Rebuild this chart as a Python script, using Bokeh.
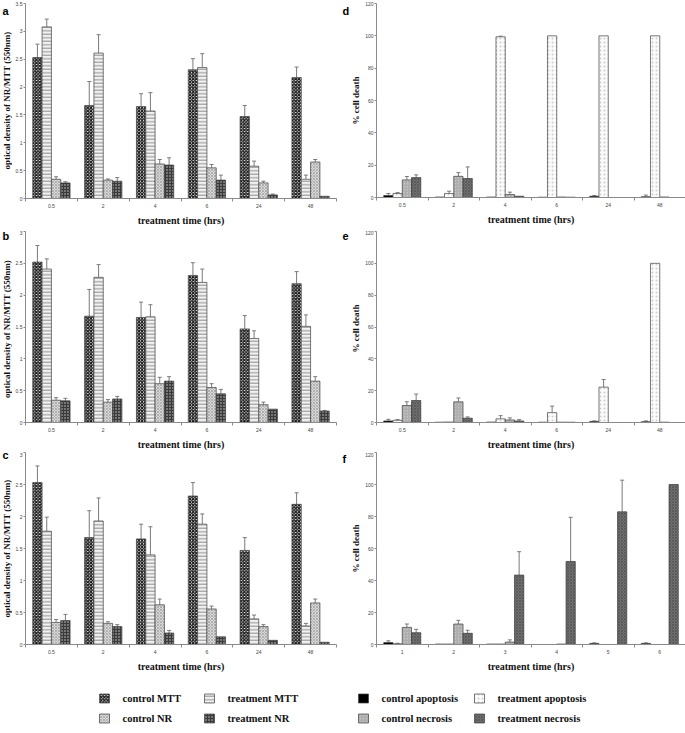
import math
import numpy as np
from bokeh.plotting import figure
from bokeh.models import (Range1d, FixedTicker, ColumnDataSource, Whisker, TeeHead,
                          Label, NumeralTickFormatter)
from bokeh.layouts import column, row
from bokeh.embed import file_html
from bokeh.resources import INLINE
from bokeh.core.properties import value

# ---------------- data ----------------
times_hrs = ["0.5", "2", "4", "6", "24", "48"]
times_f = ["1", "2", "3", "4", "5", "6"]

mtt_series = ["control MTT", "treatment MTT", "control NR", "treatment NR"]
death_series = ["control apoptosis", "treatment apoptosis", "control necrosis", "treatment necrosis"]

# panel a  (value, upper end of error bar)
a_ctrl_mtt = [2.53, 1.67, 1.65, 2.31, 1.47, 2.17]
a_ctrl_mtt_hi = [2.77, 2.10, 1.88, 2.51, 1.67, 2.36]
a_trt_mtt = [3.08, 2.61, 1.57, 2.35, 0.58, 0.345]
a_trt_mtt_hi = [3.22, 2.94, 1.90, 2.60, 0.67, 0.42]
a_ctrl_nr = [0.345, 0.33, 0.62, 0.55, 0.28, 0.655]
a_ctrl_nr_hi = [0.39, 0.35, 0.70, 0.61, 0.31, 0.70]
a_trt_nr = [0.28, 0.31, 0.60, 0.33, 0.065, 0.04]
a_trt_nr_hi = [0.30, 0.375, 0.73, 0.42, 0.08, 0.04]

# panel b
b_ctrl_mtt = [2.52, 1.67, 1.65, 2.31, 1.47, 2.18]
b_ctrl_mtt_hi = [2.78, 2.09, 1.89, 2.51, 1.68, 2.37]
b_trt_mtt = [2.41, 2.28, 1.66, 2.20, 1.32, 1.51]
b_trt_mtt_hi = [2.57, 2.48, 1.85, 2.41, 1.44, 1.69]
b_ctrl_nr = [0.35, 0.32, 0.61, 0.55, 0.28, 0.65]
b_ctrl_nr_hi = [0.39, 0.36, 0.71, 0.61, 0.32, 0.72]
b_trt_nr = [0.34, 0.37, 0.65, 0.45, 0.21, 0.18]
b_trt_nr_hi = [0.38, 0.41, 0.72, 0.52, 0.21, 0.19]

# panel c
c_ctrl_mtt = [2.53, 1.67, 1.65, 2.32, 1.47, 2.19]
c_ctrl_mtt_hi = [2.79, 2.09, 1.88, 2.53, 1.67, 2.37]
c_trt_mtt = [1.77, 1.93, 1.40, 1.88, 0.40, 0.29]
c_trt_mtt_hi = [1.99, 2.29, 1.84, 2.04, 0.46, 0.33]
c_ctrl_nr = [0.345, 0.33, 0.62, 0.555, 0.28, 0.65]
c_ctrl_nr_hi = [0.39, 0.355, 0.71, 0.60, 0.31, 0.71]
c_trt_nr = [0.375, 0.28, 0.18, 0.12, 0.065, 0.035]
c_trt_nr_hi = [0.47, 0.31, 0.22, 0.12, 0.065, 0.035]

# panel d
d_ctrl_apo = [1.2, 0.3, 0.3, 0.2, 0.8, 0.5]
d_ctrl_apo_hi = [2.5, 0.3, 0.3, 0.2, 1.2, 1.5]
d_trt_apo = [2.5, 2.5, 99.4, 100, 100, 100]
d_trt_apo_hi = [3.0, 3.9, 99.8, 100, 100, 100]
d_ctrl_nec = [10.9, 13.1, 1.8, 0.3, 0, 0.3]
d_ctrl_nec_hi = [13.0, 15.4, 3.3, 0.3, 0, 0.3]
d_trt_nec = [12.3, 11.7, 0.8, 0.2, 0, 0]
d_trt_nec_hi = [14.0, 18.9, 0.8, 0.2, 0, 0]

# panel e
e_ctrl_apo = [1.0, 0.2, 0.3, 0.2, 0.7, 0.5]
e_ctrl_apo_hi = [2.0, 0.2, 0.3, 0.2, 1.0, 1.0]
e_trt_apo = [1.4, 0.3, 2.3, 6.2, 22.2, 100]
e_trt_apo_hi = [1.8, 0.3, 4.3, 10.3, 27.0, 100]
e_ctrl_nec = [10.7, 13.0, 1.6, 0.2, 0, 0.2]
e_ctrl_nec_hi = [13.0, 15.4, 2.9, 0.2, 0, 0.2]
e_trt_nec = [13.8, 2.7, 1.0, 0.2, 0, 0]
e_trt_nec_hi = [17.9, 3.5, 1.8, 0.2, 0, 0]

# panel f
f_ctrl_apo = [1.2, 0.3, 0.3, 0, 0.7, 0.7]
f_ctrl_apo_hi = [2.3, 0.3, 0.3, 0, 1.0, 1.0]
f_trt_apo = [0.5, 0.3, 0.3, 0, 0, 0]
f_trt_apo_hi = [0.8, 0.3, 0.3, 0, 0, 0]
f_ctrl_nec = [10.7, 12.8, 1.5, 0.3, 0, 0]
f_ctrl_nec_hi = [12.8, 15.1, 2.9, 0.3, 0, 0]
f_trt_nec = [7.4, 7.0, 43.4, 51.9, 82.9, 100]
f_trt_nec_hi = [9.5, 8.9, 58.0, 79.5, 102.7, 100]

od_ticks_a = [0, 0.5, 1, 1.5, 2, 2.5, 3, 3.5]
od_ticks_bc = [0, 0.5, 1, 1.5, 2, 2.5, 3]
pct_ticks = [0, 20, 40, 60, 80, 100, 120]

od_label = "optical density of NR/MTT (550nm)"
pct_label = "% cell death"
x_label = "treatment time (hrs)"
left_letters = ["a", "b", "c"]
right_letters = ["d", "e", "f"]

# ---------------- styles ----------------
STY = {
    "control MTT": dict(fill_color="#ffffff", hatch_pattern="x", hatch_color="#1a1a1a", hatch_scale=3.2, hatch_weight=1.3),
    "treatment MTT": dict(fill_color="#f2f2f2", hatch_pattern="-", hatch_color="#8c8c8c", hatch_scale=3.5, hatch_weight=1.0),
    "control NR": dict(fill_color="#d9d9d9", hatch_pattern="x", hatch_color="#a6a6a6", hatch_scale=3, hatch_weight=0.8),
    "treatment NR": dict(fill_color="#3a3a3a", hatch_pattern=".", hatch_color="#d0d0d0", hatch_scale=3, hatch_weight=1.0),
    "control apoptosis": dict(fill_color="#000000"),
    "treatment apoptosis": dict(fill_color="#fbfbfb", hatch_pattern=".", hatch_color="#cdcdcd", hatch_scale=4, hatch_weight=0.8),
    "control necrosis": dict(fill_color="#c4c4c4", hatch_pattern="/", hatch_color="#9a9a9a", hatch_scale=3, hatch_weight=0.8),
    "treatment necrosis": dict(fill_color="#707070", hatch_pattern="x", hatch_color="#555555", hatch_scale=3, hatch_weight=0.8),
}
BW = 0.18
SERIF = "Liberation Serif"
SANS = "Liberation Sans"
AX = "#8a8a8a"


def panel(width, height, mbl, mbr, mbt, mbb, ymax, yticks, xlabels, names, vals, his):
    p = figure(width=width, height=height, x_range=Range1d(0.5, 6.5), y_range=Range1d(0, ymax),
               output_backend="svg", toolbar_location=None,
               min_border_left=mbl, min_border_right=mbr, min_border_top=mbt, min_border_bottom=mbb)
    p.outline_line_color = None
    p.xgrid.visible = False
    p.ygrid.visible = False
    for j, (nm, v, hi) in enumerate(zip(names, vals, his)):
        xs = [i + 1 + (j - 1.5) * BW for i in range(len(v))]
        src = ColumnDataSource(dict(x=xs, v=v, hi=hi))
        p.vbar(x="x", top="v", bottom=0, width=BW, source=src, line_color="#404040",
               line_width=0.7, **STY[nm])
        keep = [k for k in range(len(v)) if hi[k] > v[k]]
        esrc = ColumnDataSource(dict(x=[xs[k] for k in keep], v=[v[k] for k in keep],
                                     hi=[hi[k] for k in keep]))
        w = Whisker(base="x", lower="v", upper="hi", source=esrc, dimension="height",
                    line_color="#7a7a7a", line_width=1,
                    upper_head=TeeHead(size=4, line_color="#7a7a7a", line_width=1),
                    lower_head=None)
        p.add_layout(w)
    xa = p.xaxis[0]
    xa.ticker = FixedTicker(ticks=list(range(1, 7)), minor_ticks=[k + 0.5 for k in range(7)])
    xa.major_label_overrides = {i + 1: lab for i, lab in enumerate(xlabels)}
    xa.major_tick_out = 0
    xa.major_tick_in = 0
    xa.minor_tick_out = 3
    xa.minor_tick_in = 0
    xa.minor_tick_line_color = AX
    xa.axis_line_color = AX
    xa.major_label_text_font = SANS
    xa.major_label_text_font_size = "5px"
    xa.major_label_text_color = "#444444"
    xa.major_label_standoff = 2
    xa.axis_label = x_label
    xa.axis_label_text_font = SERIF
    xa.axis_label_text_font_style = "bold"
    xa.axis_label_text_font_size = "10px"
    xa.axis_label_text_color = "#111111"
    xa.axis_label_standoff = 4
    ya = p.yaxis[0]
    ya.ticker = FixedTicker(ticks=yticks, minor_ticks=[])
    ya.formatter = NumeralTickFormatter(format="0.[0]")
    ya.major_tick_out = 2
    ya.major_tick_in = 0
    ya.major_tick_line_color = AX
    ya.axis_line_color = AX
    ya.major_label_text_font = SANS
    ya.major_label_text_font_size = "5px"
    ya.major_label_text_color = "#444444"
    ya.major_label_standoff = 1
    return p


def strip(width, height, title, title_x, title_ys, letters, letter_x, letter_ys):
    """Narrow canvas left of a column of panels holding the y titles and panel letters."""
    s = figure(width=width, height=height, x_range=Range1d(0, width), y_range=Range1d(height, 0),
               output_backend="svg", toolbar_location=None, min_border=0)
    s.axis.visible = False
    s.grid.visible = False
    s.outline_line_color = None
    for ty in title_ys:
        s.add_layout(Label(x=title_x, y=ty, text=title, angle=math.pi / 2,
                           text_font=SERIF, text_font_style="bold", text_font_size="9px",
                           text_color="#111111", text_align="center", text_baseline="middle"))
    for lt, ly in zip(letters, letter_ys):
        s.add_layout(Label(x=letter_x, y=ly, text=lt, text_font=SANS, text_font_style="bold",
                           text_font_size="11px", text_color="#000000",
                           text_baseline="alphabetic"))
    return s


pa = panel(328, 230, 11, 4, 3, 32, 3.5, od_ticks_a, times_hrs, mtt_series,
           [a_ctrl_mtt, a_trt_mtt, a_ctrl_nr, a_trt_nr], [a_ctrl_mtt_hi, a_trt_mtt_hi, a_ctrl_nr_hi, a_trt_nr_hi])
pb = panel(328, 222, 11, 4, 1, 26, 3, od_ticks_bc, times_hrs, mtt_series,
           [b_ctrl_mtt, b_trt_mtt, b_ctrl_nr, b_trt_nr], [b_ctrl_mtt_hi, b_trt_mtt_hi, b_ctrl_nr_hi, b_trt_nr_hi])
pc = panel(328, 224, 11, 4, 0, 32, 3, od_ticks_bc, times_hrs, mtt_series,
           [c_ctrl_mtt, c_trt_mtt, c_ctrl_nr, c_trt_nr], [c_ctrl_mtt_hi, c_trt_mtt_hi, c_ctrl_nr_hi, c_trt_nr_hi])
pd_ = panel(323, 230, 13, 0, 3, 33, 120, pct_ticks, times_hrs, death_series,
            [d_ctrl_apo, d_trt_apo, d_ctrl_nec, d_trt_nec], [d_ctrl_apo_hi, d_trt_apo_hi, d_ctrl_nec_hi, d_trt_nec_hi])
pe = panel(323, 222, 13, 0, 1, 27, 120, pct_ticks, times_hrs, death_series,
           [e_ctrl_apo, e_trt_apo, e_ctrl_nec, e_trt_nec], [e_ctrl_apo_hi, e_trt_apo_hi, e_ctrl_nec_hi, e_trt_nec_hi])
pf = panel(323, 224, 13, 0, 0, 32, 120, pct_ticks, times_f, death_series,
           [f_ctrl_apo, f_trt_apo, f_ctrl_nec, f_trt_nec], [f_ctrl_apo_hi, f_trt_apo_hi, f_ctrl_nec_hi, f_trt_nec_hi])

sl = strip(12, 676, od_label, 6.5, [100, 328.5, 548], left_letters, 2, [10, 235, 454])
sr = strip(22, 676, pct_label, 15.5, [100, 328, 548], right_letters, 2, [10, 235, 458])

# ---------------- legend ----------------
leg_rows = [["control MTT", "treatment MTT", "control apoptosis", "treatment apoptosis"],
            ["control NR", "treatment NR", "control necrosis", "treatment necrosis"]]
col_x = [99, 204, 358, 474]
row_y = [22, 42]
lg = figure(width=685, height=57, x_range=Range1d(0, 685), y_range=Range1d(57, 0),
            output_backend="svg", toolbar_location=None, min_border=0)
lg.axis.visible = False
lg.grid.visible = False
lg.outline_line_color = None
for r, names in enumerate(leg_rows):
    for c, nm in enumerate(names):
        lg.rect(x=[col_x[c] + 5], y=[row_y[r]], width=10, height=9, line_color="#404040",
                line_width=0.7, **STY[nm])
        lg.text(x=[col_x[c] + 23], y=[row_y[r]], text=[nm], text_font=value(SERIF),
                text_font_style="bold", text_font_size="10.5px", text_baseline="middle",
                text_color="#111111")

layout = column(row(sl, column(pa, pb, pc), sr, column(pd_, pe, pf)), lg)

open("out.html", "w").write(file_html(layout, INLINE))
